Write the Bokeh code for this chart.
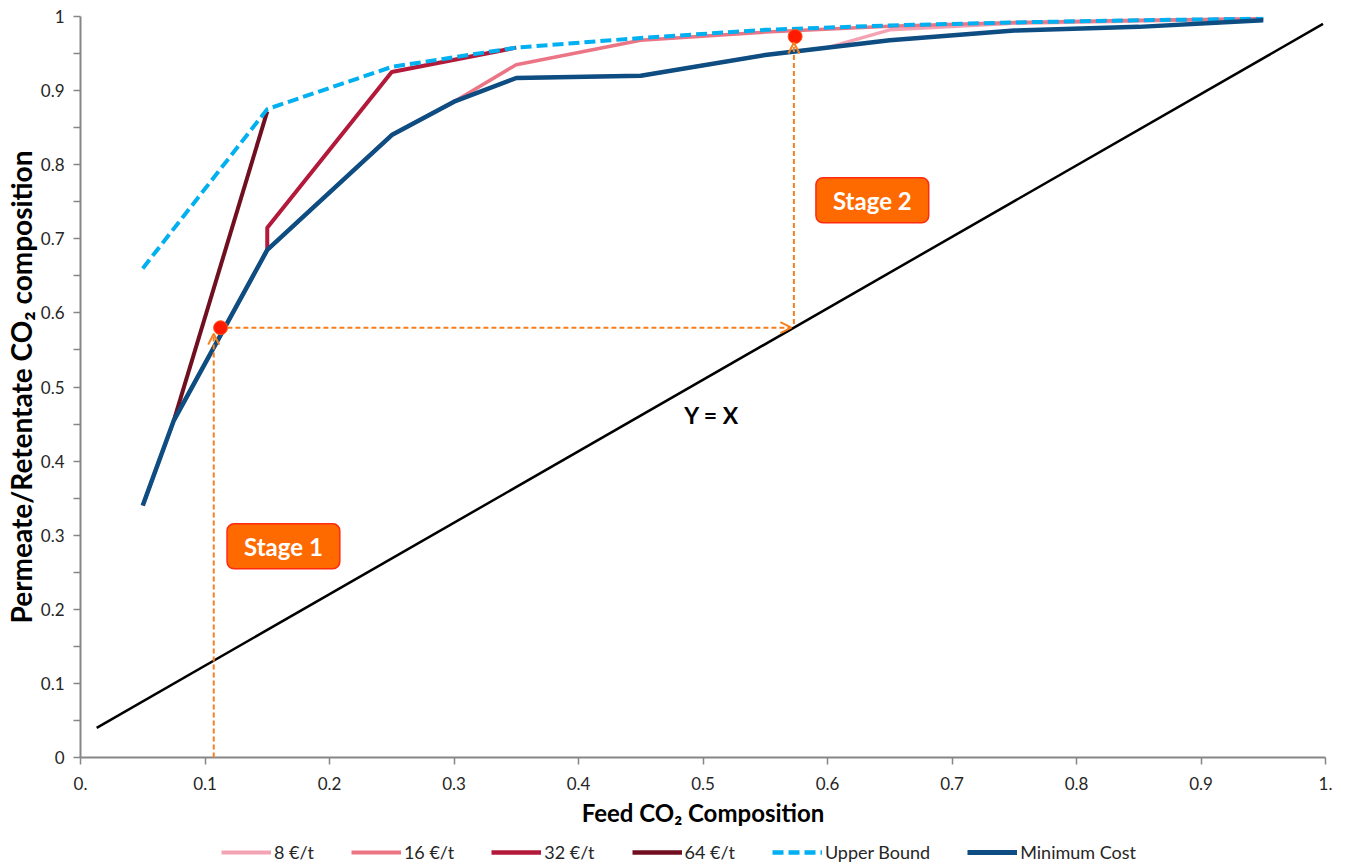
from bokeh.plotting import figure
from bokeh.layouts import column
from bokeh.models import (Range1d, FixedTicker, Legend, LegendItem, Arrow, OpenHead, Label)
from bokeh.embed import file_html
from bokeh.resources import INLINE

FONT = "Lato"

# ---------------- data ----------------
x_min = [0.05, 0.075, 0.15, 0.25, 0.30, 0.35, 0.45, 0.55, 0.65, 0.75, 0.85, 0.95]
y_min = [0.34, 0.455, 0.685, 0.84, 0.885, 0.917, 0.92, 0.948, 0.968, 0.981, 0.986, 0.995]

x_upper = [0.05, 0.15, 0.25, 0.35, 0.45, 0.55, 0.65, 0.75, 0.85, 0.95]
y_upper = [0.66, 0.875, 0.932, 0.958, 0.971, 0.982, 0.988, 0.992, 0.995, 0.997]

x_8 = [0.05, 0.075, 0.15, 0.25, 0.30, 0.35, 0.45, 0.55, 0.60, 0.65, 0.75, 0.85, 0.95]
y_8 = [0.34, 0.455, 0.685, 0.84, 0.885, 0.917, 0.92, 0.948, 0.958, 0.982, 0.991, 0.994, 0.997]

x_16 = [0.05, 0.075, 0.15, 0.25, 0.30, 0.35, 0.45, 0.55, 0.65, 0.75, 0.85, 0.95]
y_16 = [0.34, 0.455, 0.685, 0.84, 0.885, 0.935, 0.968, 0.979, 0.987, 0.992, 0.995, 0.997]

x_32 = [0.15, 0.15, 0.25, 0.35]
y_32 = [0.685, 0.715, 0.925, 0.958]

x_64 = [0.075, 0.15]
y_64 = [0.455, 0.872]

x_diag = [0.013, 0.998]
y_diag = [0.04, 0.99]

stage_x = [0.1125, 0.574]
stage_y = [0.58, 0.973]

# arrows: (x_start, y_start, x_end, y_end)
arrow_xs = [0.107, 0.118, 0.573]
arrow_ys = [0.0, 0.58, 0.585]
arrow_xe = [0.107, 0.571, 0.573]
arrow_ye = [0.572, 0.58, 0.965]

stage_labels = ["Stage 1", "Stage 2"]
stage_lx = [0.163, 0.636]
stage_ly = [0.285, 0.752]

x_ticks = [0, 0.1, 0.2, 0.3, 0.4, 0.5, 0.6, 0.7, 0.8, 0.9, 1]
y_ticks = [0, 0.1, 0.2, 0.3, 0.4, 0.5, 0.6, 0.7, 0.8, 0.9, 1]
y_minor = [0.05, 0.15, 0.25, 0.35, 0.45, 0.55, 0.65, 0.75, 0.85, 0.95]

series_names = ["8 €/t", "16 €/t", "32 €/t", "64 €/t", "Upper Bound", "Minimum Cost"]
series_colors = ["#F4A3B4", "#EC7585", "#B3193A", "#700F1F", "#00B0F0", "#0D4D82"]
series_widths = [3.5, 3.5, 4, 4, 4, 4.5]
series_dash = ["solid", "solid", "solid", "solid", "11 5", "solid"]

# ---------------- main figure ----------------
p = figure(frame_width=1245, frame_height=741, output_backend="svg", toolbar_location=None,
           x_range=Range1d(0, 1), y_range=Range1d(0, 1),
           min_border_left=74, min_border_right=12, min_border_top=16, min_border_bottom=83)
p.outline_line_color = None
p.grid.visible = False
p.background_fill_color = "white"

p.line(x_diag, y_diag, line_color="black", line_width=2.5)
series = [(x_8, y_8), (x_16, y_16), (x_32, y_32), (x_64, y_64), (x_upper, y_upper), (x_min, y_min)]
for (xs, ys), c, w, d in zip(series, series_colors, series_widths, series_dash):
    p.line(xs, ys, line_color=c, line_width=w, line_dash=d)

ORANGE = "#F7801E"
for xs, ys, xe, ye in zip(arrow_xs, arrow_ys, arrow_xe, arrow_ye):
    p.add_layout(Arrow(x_start=xs, y_start=ys, x_end=xe, y_end=ye,
                       line_color=ORANGE, line_width=2, line_dash="5 3",
                       end=OpenHead(size=11, line_color=ORANGE, line_width=2)))

p.scatter(stage_x, stage_y, size=14, fill_color="#FF1A00", line_color="#FF5A1F", line_width=1)

for t, lx, ly in zip(stage_labels, stage_lx, stage_ly):
    p.add_layout(Label(x=lx, y=ly, text=t, text_align="center", text_baseline="middle",
                       text_color="white", text_font=FONT, text_font_style="bold",
                       text_font_size="24px",
                       background_fill_color="#FF6A00", border_line_color="#FF2A10",
                       border_line_width=1.5, padding=(17, 8), border_radius=7))

p.add_layout(Label(x=0.507, y=0.462, text="Y = X", text_align="center", text_baseline="middle",
                   text_color="black", text_font=FONT, text_font_size="23px",
                   text_font_style="bold"))

AX = "#868686"
for ax in (p.xaxis[0], p.yaxis[0]):
    ax.axis_line_color = AX
    ax.axis_line_width = 2
    ax.major_tick_line_color = AX
    ax.major_tick_line_width = 1.5
    ax.minor_tick_line_color = AX
    ax.minor_tick_line_width = 1.5
    ax.major_tick_in = 0
    ax.major_tick_out = 7
    ax.major_label_text_font = FONT
    ax.major_label_text_font_size = "17px"
    ax.major_label_text_color = "#262626"
    ax.axis_label_text_font = FONT
    ax.axis_label_text_font_style = "bold"
    ax.axis_label_text_color = "black"

p.xaxis[0].ticker = FixedTicker(ticks=x_ticks)
p.xaxis[0].major_label_overrides = {0: "0.", 1: "1."}
p.xaxis[0].minor_tick_out = 0
p.xaxis[0].minor_tick_in = 0
p.xaxis[0].major_label_standoff = 12
p.xaxis[0].axis_label = "Feed CO\u2082 Composition"
p.xaxis[0].axis_label_text_font_size = "24px"
p.xaxis[0].axis_label_standoff = 5

p.yaxis[0].ticker = FixedTicker(ticks=y_ticks, minor_ticks=y_minor)
p.yaxis[0].major_label_overrides = {0: "0", 1: "1"}
p.yaxis[0].minor_tick_in = 0
p.yaxis[0].minor_tick_out = 7
p.yaxis[0].major_label_standoff = 9
p.yaxis[0].axis_label = "Permeate/Retentate CO\u2082 composition"
p.yaxis[0].axis_label_text_font_size = "28px"
p.yaxis[0].axis_label_standoff = 0

# ---------------- legend strip ----------------
# same series drawn out of view; only their legend glyphs show
lf = figure(width=1331, height=24, output_backend="svg", toolbar_location=None,
            x_range=Range1d(0, 1), y_range=Range1d(5, 6), min_border=0,
            x_axis_location=None, y_axis_location=None)
lf.outline_line_color = None
lf.grid.visible = False
items = []
for (xs, ys), n, c, w, d in zip(series, series_names, series_colors, series_widths, series_dash):
    r = lf.line(xs, ys, line_color=c, line_width=w + 0.5, line_dash=d)
    items.append(LegendItem(label=n, renderers=[r]))
legend = Legend(items=items, orientation="horizontal", location=(141, 1),
                label_text_font=FONT, label_text_font_size="18px", label_text_color="#262626",
                glyph_width=50, glyph_height=18, label_standoff=3, spacing=37,
                border_line_alpha=0, background_fill_alpha=0, padding=0, margin=0)
lf.add_layout(legend)

layout = column(p, lf, spacing=0)
open("out.html", "w").write(file_html(layout, INLINE))
